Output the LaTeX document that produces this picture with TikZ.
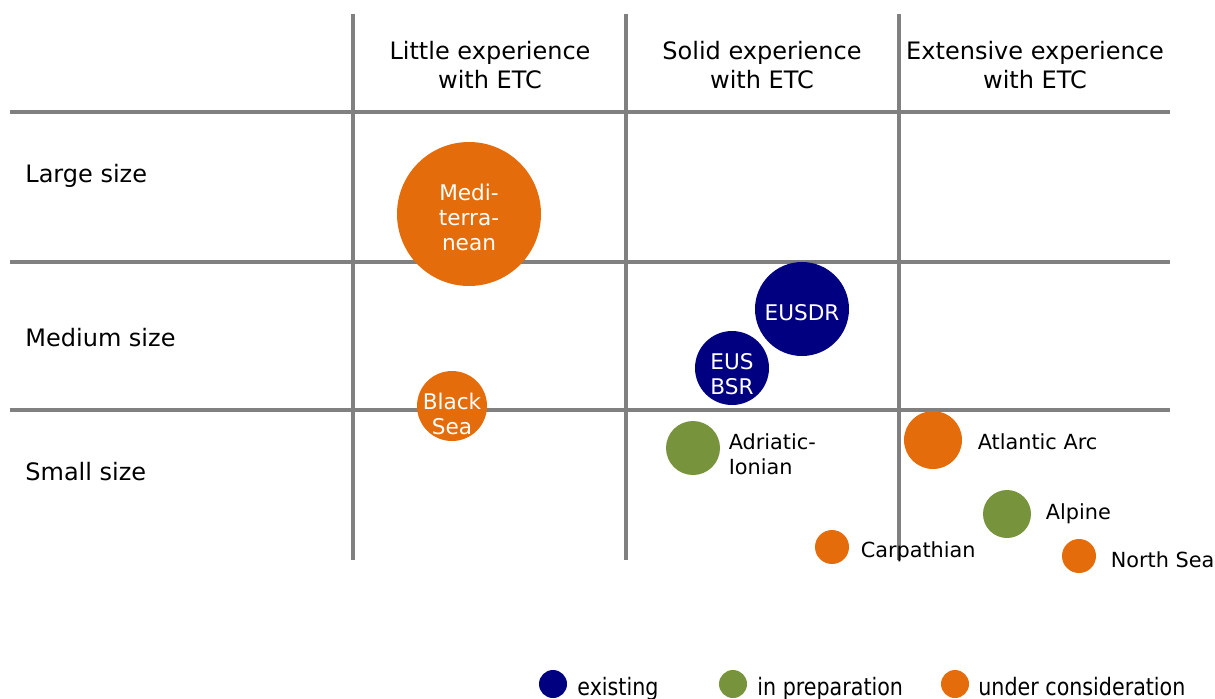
\documentclass[tikz,border=0pt]{standalone}
\usepackage{fontspec}
\setmainfont{DejaVu Sans}
\newfontfamily\legendfont[FakeStretch=0.86]{DejaVu Sans}
\usetikzlibrary{positioning}
\definecolor{etcorange}{HTML}{E46C0A}
\definecolor{etcnavy}{HTML}{000080}
\definecolor{etcgreen}{HTML}{77933C}
\definecolor{gridgray}{HTML}{808080}

\begin{document}
\begin{tikzpicture}[x=0.5pt, y=-0.5pt,
    gridline/.style={gridgray, line width=1.7pt},
    head/.style={align=center, font=\fontsize{12}{14.5}\selectfont},
    rowlabel/.style={anchor=west, inner sep=0pt, font=\fontsize{12}{14.5}\selectfont},
    bubble/.style={circle, inner sep=0pt},
    bubbletext/.style={text=white, align=center, inner sep=0pt, font=\fontsize{10.8}{12.5}\selectfont},
    tag/.style={inner sep=0pt, align=left, font=\fontsize{10.4}{12.5}\selectfont},
    keytext/.style={inner sep=0pt, anchor=base west, font=\legendfont\fontsize{12}{14}\selectfont}
  ]
  \useasboundingbox (0,0) rectangle (1215,698);

  % grid
  \foreach \x in {353,626,899}
    \draw[gridline] (\x,14) -- (\x,560);
  \foreach \y in {112,262,410}
    \draw[gridline] (10,\y) -- (1170,\y);

  % column and row headings
  \node[head] (little) at (490,65) {Little experience\\with ETC};
  \node[head] (solid) at (762,65) {Solid experience\\with ETC};
  \node[head] (extensive) at (1035,65) {Extensive experience\\with ETC};
  \node[rowlabel] (large) at (25,176) {Large size};
  \node[rowlabel] (medium) at (25,338) {Medium size};
  \node[rowlabel] (small) at (25,472) {Small size};

  % strategies
  \node[bubble, fill=etcorange, minimum size=72pt,
    label={[bubbletext, yshift=-1.5pt]center:{Medi-\\terra-\\nean}}] (med) at (469,214) {};
  \node[bubble, fill=etcnavy, minimum size=47pt,
    label={[bubbletext, yshift=-2pt]center:EUSDR}] (eusdr) at (802,309) {};
  \node[bubble, fill=etcnavy, minimum size=37pt,
    label={[bubbletext, yshift=-3pt]center:{EUS\\BSR}}] (eusbsr) at (732,368) {};
  \node[bubble, fill=etcorange, minimum size=35pt,
    label={[bubbletext, yshift=-4pt]center:{Black\\Sea}}] (blacksea) at (452,406) {};
  \node[bubble, fill=etcgreen, minimum size=27pt] (adrion) at (693,448) {};
  \node[bubble, fill=etcorange, minimum size=29pt] (atlantic) at (933,440) {};
  \node[bubble, fill=etcgreen, minimum size=24pt] (alpine) at (1007,514) {};
  \node[bubble, fill=etcorange, minimum size=17pt] (carpathian) at (832,547) {};
  \node[bubble, fill=etcorange, minimum size=17pt] (northsea) at (1079,556) {};

  \node[tag, right=4pt of adrion, yshift=-3pt] (adrionlbl) {Adriatic-\\Ionian};
  \node[tag, right=7.5pt of atlantic, yshift=-1pt] (atlanticlbl) {Atlantic Arc};
  \node[tag, right=7pt of alpine, yshift=0pt] (alpinelbl) {Alpine};
  \node[tag, right=5.5pt of carpathian, yshift=-2.5pt] (carpathianlbl) {Carpathian};
  \node[tag, right=7pt of northsea, yshift=-2pt] (northsealbl) {North Sea};

  % legend
  \node[bubble, fill=etcnavy, minimum size=14pt] (keyexist) at (553,684) {};
  \node[bubble, fill=etcgreen, minimum size=14pt] (keyprep) at (733,684) {};
  \node[bubble, fill=etcorange, minimum size=14pt] (keycons) at (955,684) {};
  \node[keytext] (keyexistlbl) at (577,695) {existing};
  \node[keytext] (keypreplbl) at (757,695) {in preparation};
  \node[keytext] (keyconslbl) at (978,695) {under consideration};
\end{tikzpicture}
\end{document}
